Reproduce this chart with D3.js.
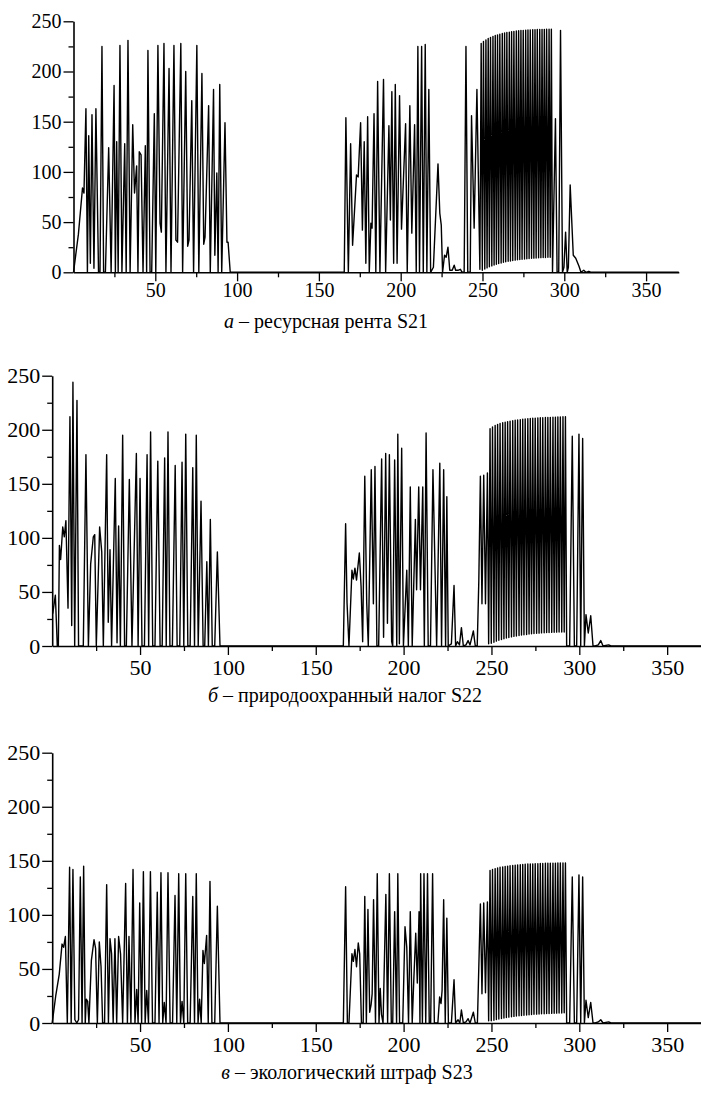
<!DOCTYPE html>
<html>
<head>
<meta charset="utf-8">
<script src="https://cdn.jsdelivr.net/npm/d3@7"></script>
<style>
body { margin: 0; background: #fff; }
</style>
</head>
<body>
<div id="chart"></div>
<script>
var serif = "'Liberation Serif', 'Times New Roman', Times, 'DejaVu Serif', serif";

// time axis and value ticks
var xMajor = [50, 100, 150, 200, 250, 300, 350];
var xMinor = [25, 75, 125, 175, 225, 275, 325];
var yMajor = [0, 50, 100, 150, 200, 250];
var yMinor = [25, 75, 125, 175, 225];

// dense burst (about t = 249..292), shared times of peaks and troughs
var burstPeakT = [249.2, 250.6, 252.1, 253.5, 254.9, 256.4, 257.8, 259.2, 260.6, 262.1, 263.5, 264.9, 266.4, 267.8, 269.2, 270.7, 272.1, 273.5, 274.9, 276.4, 277.8, 279.2, 280.7, 282.1, 283.5, 285.0, 286.4, 287.8, 289.2, 290.7, 292.1];
var burstLowT = [249.9, 251.4, 252.8, 254.2, 255.7, 257.1, 258.5, 259.9, 261.4, 262.8, 264.2, 265.7, 267.1, 268.5, 270.0, 271.4, 272.8, 274.2, 275.7, 277.1, 278.5, 280.0, 281.4, 282.8, 284.3, 285.7, 287.1, 288.5, 290.0, 291.4];

// S21 - resource rent
var s21Head = [[0,0],[3,38],[5.5,84],[6.4,79],[7.6,163],[8.5,0],[9.3,136],[10.3,9],[11.3,157],[12.5,4],[13.7,163],[15.3,0],[16.2,0],[17.4,225],[18.4,0],[19.5,0],[21.5,124],[23,0],[24.8,186],[25.6,0],[26.4,130],[27.3,0],[28.4,226],[29.6,0],[31.3,128],[32.2,0],[33.3,231],[34.6,0],[36.2,147],[37.3,79],[38.6,106],[39.4,0],[40.2,120],[41.3,117],[42.5,0],[43.9,126],[44.7,0],[45.5,221],[46.8,0],[47.8,0],[49.4,158],[50.3,0],[51.6,226],[52.9,49],[53.7,40],[55.3,228],[56.5,0],[58.4,203],[59.6,0],[61.4,226],[62.6,32],[63.6,30],[65.6,228],[66.7,0],[68.6,200],[69.8,26],[70.6,32],[72.3,171],[73.4,0],[75.4,226],[76.6,0],[78.5,198],[79.6,28],[80.4,35],[82.6,166],[83.6,0],[85.6,182],[86.4,17],[87.6,99],[88.4,0],[89.4,187],[90.6,0],[92.6,149],[93.8,30],[94.5,30],[95.8,0],
  [165.5,0],[166.5,154],[168,0],[169.4,128],[170.6,27],[173,97],[174,95],[175.5,149],[176.6,42],[177.7,130],[178.7,9],[179.8,155],[180.8,0],[181.8,49],[182.5,44],[183.7,158],[184.8,0],[185.9,190],[187.3,0],[189.5,192],[190.8,0],[192.8,146],[193.7,52],[194.6,180],[195.7,9],[196.7,187],[197.8,9],[199.3,176],[200.5,43],[203,148],[204,0],[205.6,166],[206.8,39],[208.5,147],[209.5,0],[210.5,225],[211.5,0],[212.8,225],[213.8,0],[215,227],[216,0],[217.2,182],[218.3,0],[220,5],[222.8,108],[223.9,59],[224.8,47],[225.6,0],[226.8,17],[227.8,15],[228.9,25],[230,2],[231.5,2],[232.7,7],[233.6,2],[235,2],[236.5,3],[237.6,0],[238.8,0],[239.9,225],[241,0],[242.5,0],[243.3,156],[244.9,44],[246.6,182],[248.4,3]];
var s21Hi = [228, 230, 231.5, 232.8, 234, 235, 235.8, 236.5, 237.2, 237.8, 238.3, 238.8, 239.2, 239.6, 240, 240.3, 240.6, 240.8, 241, 241.2, 241.4, 241.5, 241.6, 241.7, 241.8, 241.9, 242, 242, 242.1, 242.2, 242.2];
var s21Lo = [2, 3.2, 4.4, 5.5, 6.4, 7.2, 8, 8.7, 9.3, 9.9, 10.4, 10.9, 11.3, 11.7, 12.1, 12.4, 12.7, 13, 13.3, 13.5, 13.7, 13.9, 14.1, 14.3, 14.5, 14.6, 14.7, 14.8, 14.9, 15];
var s21Tail = [[292.8,0],[294.6,153],[295.6,0],[296.6,0],[297.7,241],[298.9,0],[299.8,5],[300.8,40],[301.8,0],[302.5,5],[303.6,87],[305.5,17],[307,14],[309,6],[310.2,0],[311.9,2],[313.2,0],[315,1],[316.5,0],[370,0]];

// S22 - environmental tax
var s22Head = [[0.3,30],[1.8,47],[2.9,0],[3.5,0],[4.1,93],[4.8,80],[6,110],[6.9,101],[7.8,116],[9,35],[10.1,212],[11.1,19],[11.8,244],[12.8,0],[14.1,227],[15,0],[17.7,0],[19.2,177],[20.6,0],[21.9,76],[23.4,101],[24.2,103],[25.1,0],[27,110],[28.2,87],[29.1,0],[31,177],[31.9,22],[32.9,89],[33.8,0],[35.9,155],[36.9,3],[37.8,111],[38.8,0],[40.1,195],[41.2,0],[42.2,0],[43.9,154],[45.4,0],[47.9,178],[48.9,0],[50,155],[51.1,0],[52.5,0],[54,177],[54.9,0],[56,198],[57.2,0],[58.5,0],[60.1,171],[61.4,0],[62.6,0],[64,174],[64.9,0],[65.9,198],[67,0],[68.4,0],[70,167],[71.1,0],[72.6,0],[73.9,170],[74.9,0],[76,196],[77.2,0],[78.5,0],[80,165],[81,0],[82,195],[83.1,0],[84.7,134],[85.9,0],[86.8,0],[88,78],[88.9,0],[90,117],[91.1,0],[92.5,0],[94,87],[95.5,0],
  [165.7,0],[167,113],[167.8,40],[168.9,0],[170.6,70],[171.4,62],[172.3,72],[173.2,61],[174.8,86],[175.8,55],[176.7,4],[177.9,157],[179,40],[179.9,0],[181.6,163],[182.8,39],[183.7,166],[184.8,0],[185.8,0],[187.5,173],[188.6,8],[189.8,178],[190.8,21],[191.9,177],[193.2,4],[193.8,0],[194.9,172],[196.1,0],[196.7,196],[197.6,2],[198.9,183],[199.9,0],[201.8,70],[202.7,0],[203.8,147],[204.9,0],[206.7,117],[207.4,52],[208.6,147],[209.6,52],[210.9,147],[211.8,0],[212.8,197],[214,0],[215.3,0],[216.7,163],[218.8,0],[220.6,169],[221.6,0],[222.8,163],[223.9,0],[224.6,138],[225.4,0],[227.2,2],[228.7,56],[229.6,0],[230.6,4],[231.8,1],[232.9,17],[234,0],[235.5,1],[236.7,5],[237.8,1],[239.7,14],[240.8,0],[241.9,0],[242.8,60],[243.7,157],[244.6,39],[245.6,158],[246.6,39],[247.7,160],[248.4,2]];
var s22Hi = [201, 202.5, 204, 205, 205.8, 206.5, 207, 207.5, 208, 208.4, 208.8, 209.1, 209.4, 209.7, 210, 210.2, 210.4, 210.6, 210.8, 211, 211.1, 211.2, 211.3, 211.4, 211.5, 211.6, 211.7, 211.8, 211.9, 212, 212];
var s22Lo = [2.5, 3.5, 4.5, 5.3, 6, 6.7, 7.3, 7.9, 8.4, 8.9, 9.3, 9.7, 10.1, 10.4, 10.7, 11, 11.3, 11.5, 11.7, 11.9, 12.1, 12.3, 12.4, 12.5, 12.6, 12.7, 12.8, 12.9, 13, 13];
var s22Tail = [[292.8,0],[294.5,0],[296,194],[297.2,0],[298.5,0],[299.8,196],[300.8,0],[301.9,192],[302.9,0],[303.8,29],[305.1,12],[306.5,28],[307.8,0],[309,0],[310.8,1],[312.2,5],[313.5,0],[316.7,1],[318,0],[370,0]];

// S23 - ecological fine
var s23Head = [[0,0],[2,25],[4,45],[5.6,73],[6.5,70],[7.5,80],[8.6,0],[9.9,144],[10.8,0],[11.8,142],[12.9,3],[14,0],[15,3],[16,135],[17,0],[17.9,145],[18.8,0],[19.4,22],[20.2,20],[20.9,0],[22.3,58],[23.8,77],[24.7,69],[25.7,0],[26.8,75],[27.8,52],[28.7,0],[29.8,0],[31,128],[32,0],[32.9,78],[33.8,64],[34.7,0],[35.7,78],[36.7,0],[37.8,80],[38.9,64],[40.1,0],[41.8,129],[42.8,0],[43.7,80],[44.8,0],[46,142],[47.1,0],[48.1,31],[48.9,0],[49.8,111],[50.9,0],[51.9,140],[52.9,0],[53.8,30],[54.8,0],[55.9,140],[57.1,0],[58.5,0],[59.8,121],[60.8,0],[61.9,139],[62.9,0],[63.8,19],[64.8,0],[65.9,139],[67.1,0],[68.5,0],[69.9,118],[70.9,0],[72,138],[73,0],[73.9,20],[74.9,0],[76,138],[77.1,0],[78.5,0],[80,117],[81,0],[82,138],[83,0],[83.9,22],[84.8,0],[85.8,67],[86.6,55],[87.9,81],[88.8,0],[89.8,131],[90.9,0],[92.5,0],[94,108],[95.5,0],
  [165.7,0],[167,126],[168,0],[168.9,0],[170.6,64],[171.4,57],[172.3,68],[173.2,52],[174.2,74],[175,64],[176,0],[177,0],[177.9,117],[178.8,0],[179.7,105],[180.7,10],[181.5,17],[182.1,27],[182.9,114],[184,0],[185,138],[186,0],[186.7,32],[187.4,8],[188.3,0],[189.9,119],[190.9,0],[191.9,138],[193,0],[193.8,0],[194.9,103],[196,0],[196.7,138],[197.7,0],[199.5,0],[200.8,89],[201.8,70],[202.8,0],[203.8,103],[204.9,0],[205.8,40],[206.9,83],[207.8,37],[208.8,103],[209.3,0],[209.7,138],[210.7,0],[211.6,138],[212.6,0],[213.6,138],[214.6,0],[215.4,0],[216.5,138],[217.5,0],[219.5,0],[220.5,24],[221.3,18],[221.9,30],[222.8,114],[223.7,0],[224.6,97],[225.5,0],[227.2,0],[228.7,40],[229.6,0],[231,3],[232,0],[232.9,12],[234,0],[235.5,1],[236.7,4],[237.8,0],[239.7,10],[240.8,0],[242,0],[243.7,110],[244.6,27],[245.6,111],[246.6,28],[247.7,112],[248.4,2]];
var s23Hi = [141, 142, 142.8, 143.4, 144, 144.4, 144.8, 145.1, 145.4, 145.7, 146, 146.2, 146.4, 146.6, 146.8, 147, 147.1, 147.2, 147.3, 147.4, 147.5, 147.6, 147.7, 147.8, 147.8, 147.9, 147.9, 148, 148, 148, 148];
var s23Lo = [2, 2.6, 3.2, 3.7, 4.2, 4.6, 5, 5.4, 5.8, 6.1, 6.4, 6.7, 7, 7.2, 7.4, 7.6, 7.8, 8, 8.2, 8.3, 8.5, 8.6, 8.7, 8.8, 8.9, 9, 9.1, 9.2, 9.3, 9.4];
var s23Tail = [[292.8,0],[294.5,0],[296,135],[297.2,0],[298.5,0],[299.8,137],[300.8,0],[301.9,135],[302.9,0],[303.8,21],[305.1,5],[306.5,19],[307.8,0],[309,0],[310.8,1],[312.2,3],[313.5,0],[316.7,1],[318,0],[370,0]];

function series(head, hi, lo, tail) {
  var pts = head.concat(d3.zip(burstPeakT, hi), d3.zip(burstLowT, lo), tail);
  return pts.sort(function(a, b) { return a[0] - b[0]; });
}

var width = 701,
  height = 1093;

var svg = d3.select("#chart")
  .append("svg")
  .attr("width", width)
  .attr("height", height)

var panels = [
  { data: series(s21Head, s21Hi, s21Lo, s21Tail), x: [73.5, 678.8], y: [272.3, 21.3], fs: 20, xpad: 2,
    letter: "а", caption: " – ресурсная рента S21", cx: 326, cy: 328 },
  { data: series(s22Head, s22Hi, s22Lo, s22Tail), x: [52.2, 702.3], y: [646, 375.7], fs: 22, xpad: 4,
    letter: "б", caption: " – природоохранный налог S22", cx: 345, cy: 702 },
  { data: series(s23Head, s23Hi, s23Lo, s23Tail), x: [52.2, 702.3], y: [1023, 752.7], fs: 22, xpad: 4,
    letter: "в", caption: " – экологический штраф S23", cx: 347, cy: 1079 }
];

panels.forEach(function(p) {
  var x = d3.scaleLinear().domain([0, 370]).range(p.x);
  var y = d3.scaleLinear().domain([0, 250]).range(p.y);
  var g = svg.append("g");

  var line = d3.line()
    .x(function(d) { return x(d[0]) })
    .y(function(d) { return y(d[1]) });

  g.append("path")
    .datum(p.data)
    .attr("d", line)
    .attr("fill", "none")
    .attr("stroke", "#000")
    .attr("stroke-width", 1.4)
    .attr("stroke-linejoin", "round");

  // y axis: labelled ticks every 50, short ticks between
  g.append("g")
    .attr("transform", "translate(" + p.x[0] + ",0)")
    .call(d3.axisLeft(y).tickValues(yMajor).tickSize(10).tickPadding(2).tickSizeOuter(0));
  g.append("g")
    .attr("transform", "translate(" + p.x[0] + ",0)")
    .call(d3.axisLeft(y).tickValues(yMinor).tickSize(5).tickFormat(""))
    .select(".domain").remove();

  // x axis
  g.append("g")
    .attr("transform", "translate(0," + p.y[0] + ")")
    .call(d3.axisBottom(x).tickValues(xMajor).tickSize(9).tickPadding(p.xpad).tickSizeOuter(0));
  g.append("g")
    .attr("transform", "translate(0," + p.y[0] + ")")
    .call(d3.axisBottom(x).tickValues(xMinor).tickSize(5).tickFormat(""))
    .select(".domain").remove();

  g.selectAll(".tick line").attr("stroke-width", 1.3);
  g.selectAll(".domain").attr("stroke-width", 1.6);
  g.selectAll(".tick text")
    .style("font-family", serif)
    .style("font-size", p.fs + "px");

  var cap = g.append("text")
    .attr("x", p.cx)
    .attr("y", p.cy)
    .attr("text-anchor", "middle")
    .style("font-family", serif)
    .style("font-size", "20px");
  cap.append("tspan").attr("font-style", "italic").text(p.letter);
  cap.append("tspan").text(p.caption);
});
</script>
</body>
</html>
